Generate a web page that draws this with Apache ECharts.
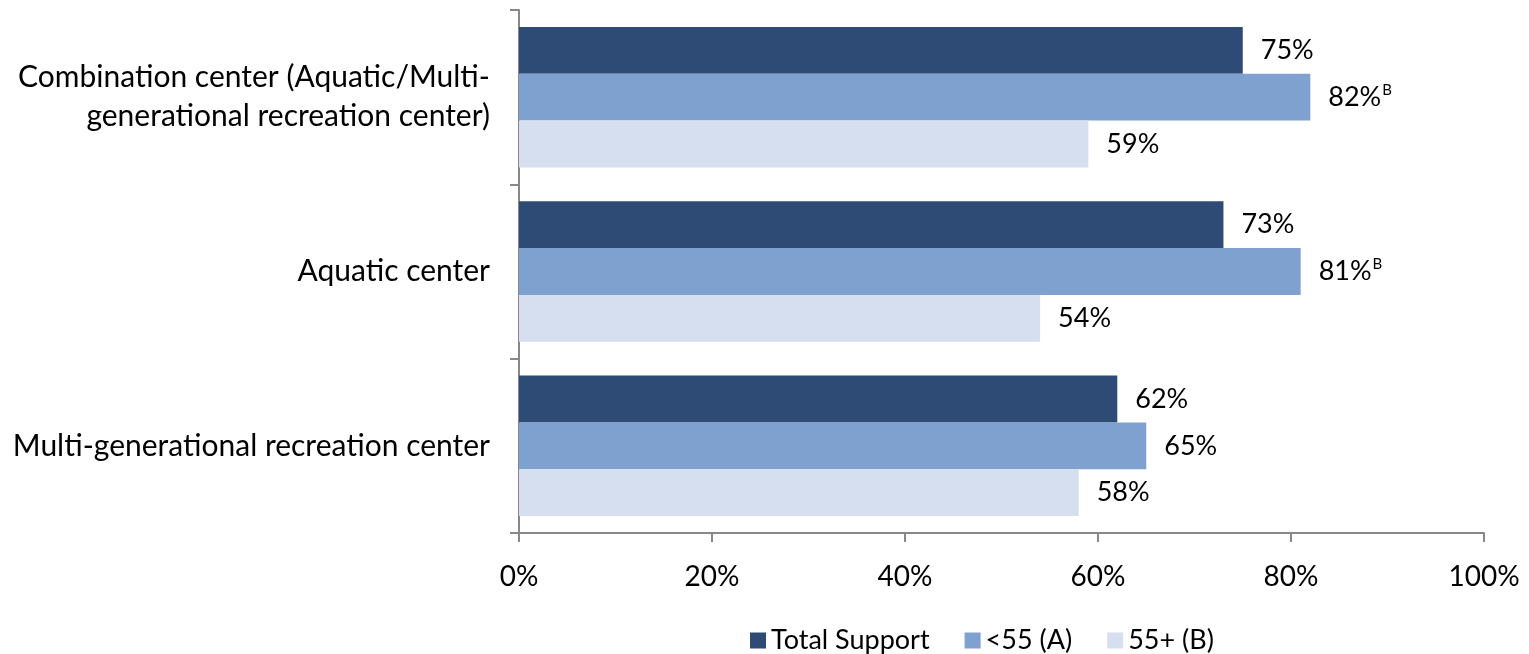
<!DOCTYPE html>
<html><head><meta charset="utf-8">
<script src="https://cdn.jsdelivr.net/npm/echarts@6/dist/echarts.min.js"></script>
<style>html,body{margin:0;padding:0;background:#fff}#c{width:1529px;height:654px}</style>
</head><body><div id="c"></div>
<script>
var categories = ['Combination center (Aquatic/Multi-\ngenerational recreation center)', 'Aquatic center', 'Multi-generational recreation center'];
var seriesNames = ['Total Support', '<55 (A)', '55+ (B)'];
var totalSupport = [75, 73, 62];
var under55 = [82, 81, 65];
var over55 = [59, 54, 58];
var under55Sig = ['B', 'B', ''];
var over55Sig = ['', '', ''];
var xTicks = [0, 20, 40, 60, 80, 100];
var colors = ['#2E4B76', '#7FA1D0', '#D5DFEF'];
var FONT = 'Lato';

function mkLabel(sig) {
  return {
    show: true, position: 'right', distance: 18,
    fontFamily: FONT, fontSize: 27, color: '#000',
    formatter: function (p) {
      var s = sig ? sig[p.dataIndex] : '';
      return p.value + '%' + (s ? '{sup|' + s + '}' : '');
    },
    rich: { sup: { fontFamily: FONT, fontSize: 15, color: '#000', verticalAlign: 'top', padding: [0, 0, 14, 1] } }
  };
}

var chart = echarts.init(document.getElementById('c'));
chart.setOption({
  animation: false,
  color: colors,
  grid: { left: 519, right: 45, top: 10, bottom: 121, containLabel: false },
  legend: {
    top: 622, left: 745, itemWidth: 16, itemHeight: 16, itemGap: 35,
    icon: 'rect',
    textStyle: { fontFamily: FONT, fontSize: 27, color: '#000' },
    data: seriesNames
  },
  xAxis: {
    type: 'value', min: 0, max: 100, interval: 20,
    axisLine: { show: true, lineStyle: { color: '#888', width: 2 } },
    axisTick: { show: true, length: 9, lineStyle: { color: '#888', width: 2 } },
    splitLine: { show: false },
    axisLabel: { formatter: '{value}%', fontFamily: FONT, fontSize: 28, color: '#000', margin: 30 }
  },
  yAxis: {
    type: 'category', data: categories, inverse: true,
    axisLine: { show: true, lineStyle: { color: '#888', width: 2 } },
    axisTick: { show: true, length: 9, lineStyle: { color: '#888', width: 2 } },
    axisLabel: { fontFamily: FONT, fontSize: 30, color: '#000', margin: 29, lineHeight: 39, align: 'right' }
  },
  series: [
    { name: seriesNames[0], type: 'bar', data: totalSupport, barGap: '0%', barCategoryGap: '19.4%', label: mkLabel(null) },
    { name: seriesNames[1], type: 'bar', data: under55, barGap: '0%', barCategoryGap: '19.4%', label: mkLabel(under55Sig) },
    { name: seriesNames[2], type: 'bar', data: over55, barGap: '0%', barCategoryGap: '19.4%', label: mkLabel(over55Sig) }
  ]
});
</script></body></html>
